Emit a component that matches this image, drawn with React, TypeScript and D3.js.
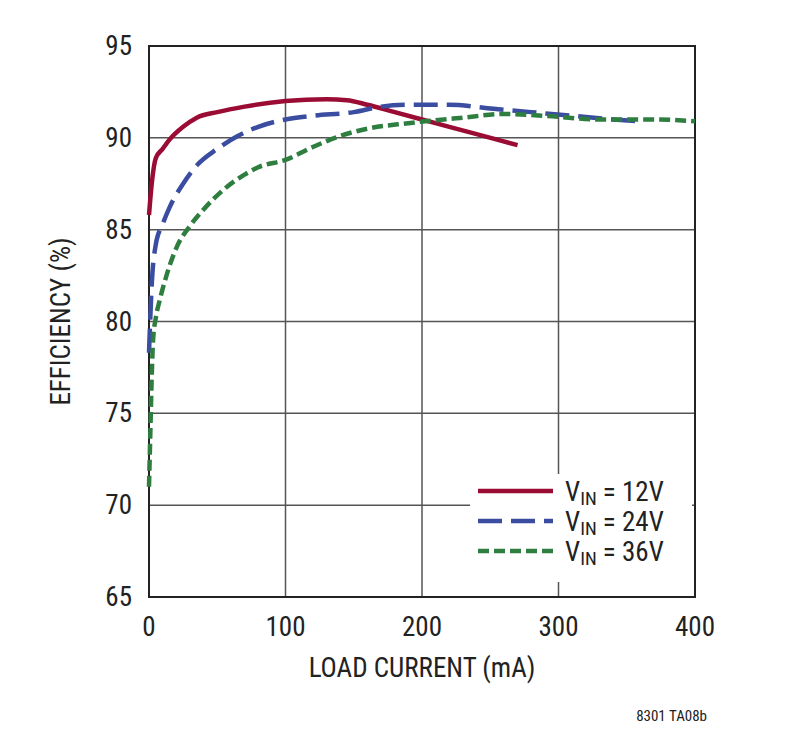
import * as d3 from "d3"

const xTicks = [0, 100, 200, 300, 400]
const yTicks = [65, 70, 75, 80, 85, 90, 95]

const load12 = [0, 2, 5, 10, 15, 25, 35, 50, 70, 100, 130, 145, 160, 180, 200, 220, 240, 270]
const eff12 = [85.8, 87.5, 88.9, 89.4, 89.9, 90.6, 91.1, 91.4, 91.7, 92.0, 92.1, 92.05, 91.8, 91.4, 91.0, 90.6, 90.2, 89.6]

const load24 = [0, 2, 5, 10, 15, 25, 35, 50, 65, 80, 100, 120, 150, 170, 190, 220, 250, 280, 310, 340, 360]
const eff24 = [78.3, 82, 84.2, 85.3, 86.2, 87.5, 88.5, 89.4, 90.1, 90.6, 91.0, 91.2, 91.4, 91.7, 91.8, 91.8, 91.6, 91.4, 91.2, 91.0, 90.9]

const load36 = [0, 1, 2, 3, 5, 8, 12, 20, 30, 40, 55, 70, 80, 100, 120, 140, 160, 190, 230, 260, 290, 330, 370, 400]
const eff36 = [71, 74, 77, 79, 80.2, 81.2, 82.3, 84, 85.2, 86.1, 87.2, 88.0, 88.4, 88.8, 89.5, 90.1, 90.5, 90.8, 91.1, 91.3, 91.2, 91.0, 91.0, 90.9]

const series = [
  { label: "12V", load: load12, eff: eff12, color: "#9b0c34", dash: "none" },
  { label: "24V", load: load24, eff: eff24, color: "#3a4da0", dash: "24 9" },
  { label: "36V", load: load36, eff: eff36, color: "#2e7e40", dash: "11 5" },
]

const FONT = "'Liberation Sans Narrow', 'Arial Narrow', 'Roboto Condensed', sans-serif"

export default function App() {
  const x = d3.scaleLinear().domain([0, 400]).range([149, 695])
  const y = d3.scaleLinear().domain([65, 95]).range([597, 46])
  const line = d3.line<[number, number]>().x((d) => x(d[0])).y((d) => y(d[1])).curve(d3.curveMonotoneX)

  return (
    <svg width={797} height={732} style={{ position: "absolute", left: 0, top: 0 }} fontFamily={FONT}>
      <rect width={797} height={732} fill="white" />
      {xTicks.slice(1, -1).map((t) => (
        <line key={t} x1={x(t)} x2={x(t)} y1={y(95)} y2={y(65)} stroke="#555" strokeWidth={1.5} />
      ))}
      {yTicks.slice(1, -1).map((t) => (
        <line key={t} x1={x(0)} x2={x(400)} y1={y(t)} y2={y(t)} stroke="#555" strokeWidth={1.5} />
      ))}
      <rect x={x(0)} y={y(95)} width={x(400) - x(0)} height={y(65) - y(95)} fill="none" stroke="#222" strokeWidth={2} />
      {xTicks.map((t) => (
        <text key={t} x={x(t)} y={636} textAnchor="middle" fontSize={27} fill="#222">{t}</text>
      ))}
      {yTicks.map((t) => (
        <text key={t} x={132} y={y(t) + 9} textAnchor="end" fontSize={27} fill="#222">{t}</text>
      ))}
      <text x={422} y={677} textAnchor="middle" fontSize={27} fill="#222">LOAD CURRENT (mA)</text>
      <text transform={`translate(70,${y(80)}) rotate(-90)`} textAnchor="middle" fontSize={27} fill="#222">EFFICIENCY (%)</text>
      <text x={707} y={721} textAnchor="end" fontSize={15} fill="#222">8301 TA08b</text>
      {series.map((s) => (
        <path key={s.label} d={line(s.load.map((l, i) => [l, s.eff[i]] as [number, number])) ?? ""}
          fill="none" stroke={s.color} strokeWidth={4.5} strokeDasharray={s.dash} />
      ))}
      <rect x={470} y={474} width={222} height={108} fill="white" />
      {series.map((s, i) => (
        <g key={s.label} transform={`translate(0,${491 + i * 30})`}>
          <line x1={478} x2={553} y1={0} y2={0} stroke={s.color} strokeWidth={4.5} strokeDasharray={s.dash} />
          <text x={565} y={10} fontSize={27} fill="#222">
            V<tspan fontSize={19} dy={4}>IN</tspan><tspan dy={-4}> = {s.label}</tspan>
          </text>
        </g>
      ))}
    </svg>
  )
}
